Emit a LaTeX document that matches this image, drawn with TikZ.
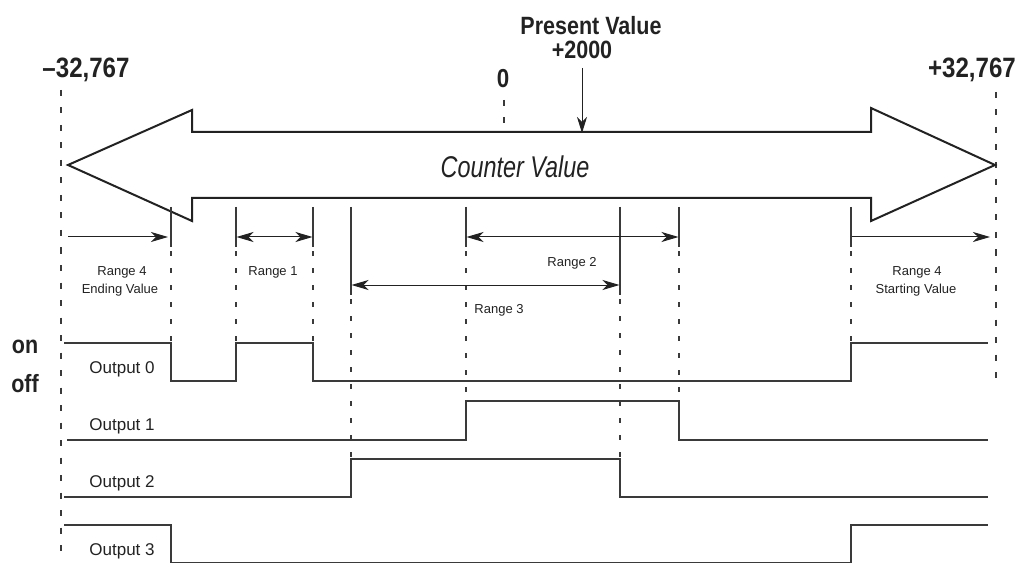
\documentclass[tikz,border=0pt]{standalone}
\usepackage{fontspec}
\setmainfont{Liberation Sans}
\newfontfamily\condA[FakeStretch=0.86]{Liberation Sans}
\newfontfamily\condB[FakeStretch=0.78]{Liberation Sans}
\usetikzlibrary{arrows.meta}
\definecolor{ink}{HTML}{222222}
\definecolor{sigc}{HTML}{3A3A3A}
\begin{document}
\begin{tikzpicture}[x=1pt,y=-1pt,
  bigline/.style={line width=2pt, draw=ink, line join=miter, fill=white},
  sig/.style={line width=1.3pt, draw=sigc},
  guide/.style={line width=1.1pt, draw=sigc, dash pattern=on 5pt off 12pt},
  edgeline/.style={line width=1.1pt, draw=sigc},
  rng/.style={line width=1pt, draw=ink},
  small/.style={font=\fontsize{13}{15}\selectfont, text=ink, inner sep=0, anchor=base},
  outlbl/.style={font=\fontsize{17}{19}\selectfont, text=ink, inner sep=0, anchor=base},
  bignum/.style={font=\condA\bfseries\fontsize{28}{30}\selectfont, text=ink, inner sep=0, anchor=base},
  onoff/.style={font=\condA\bfseries\fontsize{25}{27}\selectfont, text=ink, inner sep=0, anchor=base}
]
\useasboundingbox (0,0) rectangle (1020,564);

% outer dashed limits
\draw[guide,dash pattern=on 6pt off 11.5pt] (61,90) -- (61,556);
\draw[guide,dash pattern=on 6pt off 11.5pt] (996,92) -- (996,382);
\draw[guide,dash pattern=on 6pt off 11.5pt] (504,100) -- (504,132);

% big double arrow
\draw[bigline] (68,165) -- (192,110) -- (192,132) -- (871,132) -- (871,108)
  -- (995,165) -- (871,221) -- (871,198) -- (192,198) -- (192,221) -- cycle;
\node[font=\condB\itshape\fontsize{30}{32}\selectfont, text=ink, inner sep=0, anchor=base] (cv) at (515,178) {Counter Value};

% top labels
\node[bignum] (minv) at (86,78) {–32,767};
\node[bignum] (maxv) at (972,78) {+32,767};
\node[bignum, font=\condA\bfseries\fontsize{26}{28}\selectfont] (zero) at (503,88) {0};
\node[bignum, font=\condA\bfseries\fontsize{25}{27}\selectfont] (pv1) at (591,35) {Present Value};
\node[bignum, font=\condA\bfseries\fontsize{25}{27}\selectfont] (pv2) at (582,59) {+2000};
\coordinate (pvtip) at (582,133);
\draw[line width=1pt, draw=ink, -{Stealth[length=16pt,width=10pt,inset=5pt]}] (582,68) -- (pvtip);

% range boundary lines (solid parts)
\foreach \x in {171,236,313,466,679,851} \draw[edgeline] (\x,207) -- (\x,247);
\foreach \x in {351,620} \draw[edgeline] (\x,207) -- (\x,295);
% dashed continuations
\foreach \x in {171,236,313,851} \draw[guide] (\x,251) -- (\x,343);
\foreach \x in {466,679} \draw[guide] (\x,251) -- (\x,401);
\foreach \x in {351,620} \draw[guide] (\x,299) -- (\x,459);

% range arrows
\draw[rng,-{Stealth[length=17pt,width=10pt,inset=5pt]}] (68,237) -- (168,237);
\draw[rng,{Stealth[length=17pt,width=10pt,inset=5pt]}-{Stealth[length=17pt,width=10pt,inset=5pt]}] (236.5,237) -- (312.5,237);
\draw[rng,{Stealth[length=17pt,width=10pt,inset=5pt]}-{Stealth[length=17pt,width=10pt,inset=5pt]}] (466.5,237) -- (678.5,237);
\draw[rng,{Stealth[length=17pt,width=10pt,inset=5pt]}-{Stealth[length=17pt,width=10pt,inset=5pt]}] (351.5,285) -- (619.5,285);
\draw[rng,-{Stealth[length=17pt,width=10pt,inset=5pt]}] (851.5,237) -- (990,237);

% range labels
\node[small] (r4e1) at (122,275) {Range 4};
\node[small] (r4e2) at (120,293) {Ending Value};
\node[small] (r1) at (273,275) {Range 1};
\node[small] (r2) at (572,266) {Range 2};
\node[small] (r3) at (499,313) {Range 3};
\node[small] (r4s1) at (917,275) {Range 4};
\node[small] (r4s2) at (916,293) {Starting Value};

% on / off
\node[onoff] (on) at (25,353) {on};
\node[onoff] (off) at (25,392) {off};

% signals
\draw[sig] (64,343) -- (171,343) -- (171,381) -- (236,381) -- (236,343) -- (313,343)
  -- (313,381) -- (851,381) -- (851,343) -- (988,343);
\draw[sig] (67,440) -- (466,440) -- (466,401) -- (679,401) -- (679,440) -- (988,440);
\draw[sig] (64,497) -- (351,497) -- (351,459) -- (620,459) -- (620,497) -- (988,497);
\draw[sig] (64,525) -- (171,525) -- (171,562.5) -- (851,562.5) -- (851,525) -- (988,525);

% output labels
\node[outlbl] (o0) at (122,373) {Output 0};
\node[outlbl] (o1) at (122,430) {Output 1};
\node[outlbl] (o2) at (122,487) {Output 2};
\node[outlbl] (o3) at (122,555) {Output 3};
\end{tikzpicture}
\end{document}
